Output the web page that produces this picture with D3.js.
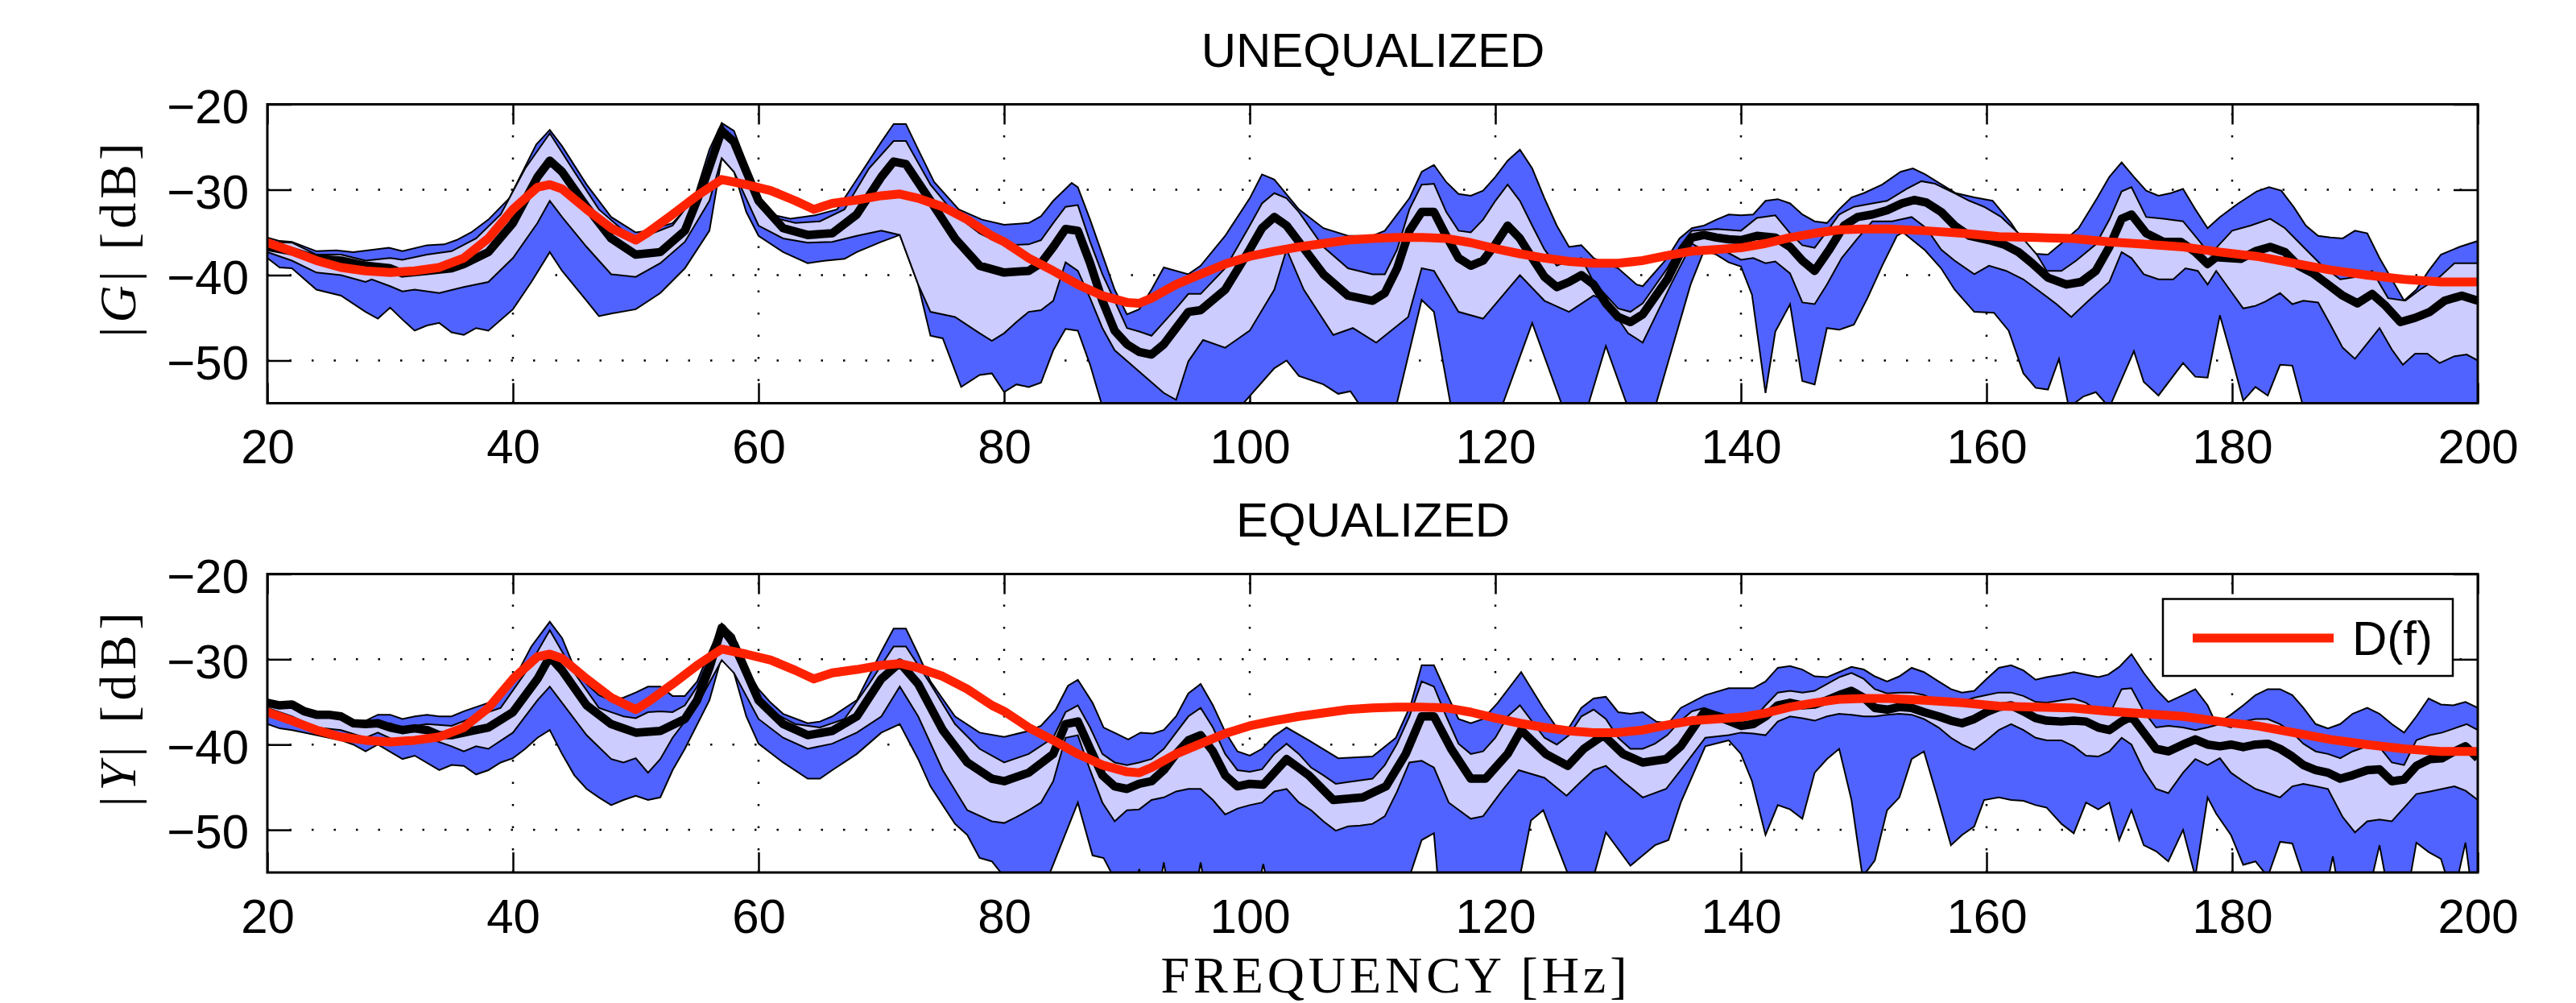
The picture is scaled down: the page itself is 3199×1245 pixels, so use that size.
<!DOCTYPE html>
<html>
<head>
<meta charset="utf-8">
<script src="https://cdn.jsdelivr.net/npm/d3@7"></script>
<style>
  html, body { margin: 0; padding: 0; background: #fff; }
  svg.vis { display: block; }
  .tick text { font-family: "Liberation Sans", Arial, Helvetica, sans-serif; font-size: 60px; fill: #000; }
</style>
</head>
<body>
<svg class="vis" width="3199" height="1245"></svg>
<script>

// axis ticks
const xTicks = [20, 40, 60, 80, 100, 120, 140, 160, 180, 200];
const yTicks = [-20, -30, -40, -50];
const panelTitles = ["UNEQUALIZED", "EQUALIZED"];
const panelSymbols = ["G", "Y"];

// target response D(f), same in both panels  [Hz, dB]
const dTarget = [[20,-36.2],[22,-37.2],[24,-38.3],[26,-39.1],[28,-39.5],[30,-39.7],[32,-39.5],[34,-39.1],[36,-38],[38,-35.7],[40,-32.3],[42,-29.7],[43,-29.4],[44,-29.9],[46,-32.3],[48,-34.5],[50,-35.9],[51,-35],[53,-32.9],[55,-30.7],[57,-28.8],[59,-29.4],[61,-30.1],[63,-31.3],[64.5,-32.3],[66,-31.6],[68,-31.2],[70,-30.7],[71.5,-30.5],[73,-31],[75,-32],[77,-33.5],[79,-35.4],[80,-36.1],[82,-38],[84,-39.5],[86,-41.1],[88,-42.4],[90,-43.2],[91,-43.3],[92,-42.7],[94,-41.1],[96,-39.9],[98,-38.7],[100,-37.8],[102,-37.2],[104,-36.7],[106,-36.3],[108,-35.9],[110,-35.7],[112,-35.6],[114,-35.6],[116,-35.7],[118,-36.2],[120,-36.9],[122,-37.5],[124,-38],[126,-38.4],[128,-38.6],[130,-38.6],[132,-38.3],[134,-37.7],[136,-37.2],[138,-37],[140,-36.8],[142,-36.3],[144,-35.6],[146,-35.1],[148,-34.7],[150,-34.6],[152,-34.6],[155,-34.8],[158,-35.1],[161,-35.5],[164,-35.6],[167,-35.7],[170,-36.1],[173,-36.4],[176,-36.7],[179,-37.3],[182,-37.8],[185,-38.6],[188,-39.4],[191,-40],[194,-40.5],[197,-40.8],[200,-40.8]];

// UNEQUALIZED |G|
const gOuterHi = [[20,-35.6],[21,-36],[22,-36.1],[24,-37.2],[25.6,-37.1],[27,-37.3],[29.9,-36.8],[31,-37.2],[33,-36.5],[34.4,-36.4],[35.4,-35.9],[36.6,-35],[38,-33.5],[39.7,-31],[41.9,-24.7],[43,-23],[44,-24.9],[46,-29.4],[48,-33.2],[50,-35],[51,-34.8],[53,-33.9],[54.7,-31.3],[56,-25.3],[57,-22.2],[58,-23.1],[59,-26.9],[60,-31],[61,-32.9],[62.6,-33.4],[64.6,-33],[66.4,-32.3],[68,-28.8],[70,-24.4],[71,-22.3],[72,-22.3],[73,-25.3],[74.3,-29.1],[76.3,-32.3],[78.2,-33.5],[80,-34.1],[82,-33.9],[83,-33.1],[84,-31.3],[85.5,-29.2],[86,-29.7],[87,-33.5],[88,-37.6],[89,-41.7],[90,-44.6],[91,-44],[92,-41.7],[93,-39.1],[95,-39.9],[96,-38.9],[98,-35.4],[100,-31],[101,-28.2],[102,-28.8],[104,-32.3],[106,-34.5],[108,-35.4],[110,-35.4],[111,-34.8],[113,-31],[114,-27.9],[115,-27.1],[116,-29.1],[117,-30.5],[118,-30.7],[119,-30.1],[120,-28.5],[121,-26.6],[122,-25.3],[123,-27.5],[124,-31],[125,-34.2],[126,-36.7],[127,-36.5],[128,-38],[130,-39.2],[131.5,-41.1],[132,-41.3],[134,-38],[135,-35.7],[136,-34.5],[137,-34.2],[138,-33.5],[139,-32.9],[140,-33],[141,-32.9],[142,-31.3],[143,-31.1],[144,-31.6],[145,-32.9],[146,-33.7],[147,-33.9],[148,-32.3],[149,-30.9],[150,-30.4],[151.5,-29.4],[153,-27.9],[154,-27.5],[155,-28.2],[156,-29.1],[157.5,-30.4],[159,-30.9],[160.5,-31.3],[162,-33.9],[163,-36.1],[164,-37.5],[165,-37.6],[166,-36.4],[167.5,-34.5],[169,-31],[170,-28.5],[171,-26.8],[172,-28.5],[173,-30.1],[174,-30.7],[175,-30.4],[176,-29.9],[177,-32.3],[178,-34.5],[179,-33.2],[180.5,-31.6],[182,-30.2],[183,-29.7],[184,-30.1],[185,-32],[186,-34.2],[187,-35.4],[188,-35.6],[189,-35.7],[190,-34.8],[191,-35.1],[192,-38],[193,-40.5],[194,-43],[195,-41.7],[196,-39.5],[197,-37.6],[198.5,-36.7],[200,-36]];
const gInnerHi = [[20,-36.1],[22,-36.2],[24,-37.6],[26,-37.6],[28,-38.3],[30,-38],[31,-38.2],[33,-37.6],[35,-37.2],[37,-35.7],[39,-32.9],[41,-27.5],[43,-23.4],[45,-27.9],[47,-32.3],[49,-34.8],[50,-35.6],[51,-35.3],[53,-34.2],[55,-30.4],[57,-22.3],[59,-28.2],[61,-33.2],[63,-33.9],[65,-33.7],[67,-32.3],[69,-27.5],[71,-24.3],[72,-24.3],[74,-29.4],[76,-32.9],[78,-35.1],[80,-36.5],[82,-36.4],[83,-35.9],[84,-33.9],[85,-32],[86,-31.8],[87,-36.1],[88,-39.9],[89,-43],[90,-46.2],[91,-46.6],[92,-47.1],[93,-45.5],[94,-43.9],[95,-42.2],[96,-42.2],[98,-39.2],[100,-34.2],[101,-31.6],[102,-30.4],[103,-31],[104,-32.6],[106,-36.7],[108,-39.2],[110,-39.9],[111,-39.9],[112,-37],[113,-32.3],[114,-29.4],[115,-29.3],[116,-32.6],[117,-34.8],[118,-35],[119,-33.5],[120,-31.3],[121,-29.4],[122,-31.3],[123,-34.2],[124,-37],[125,-38.9],[126,-38.3],[127,-38],[128,-40.8],[130,-43.9],[131,-44.3],[132,-43.3],[134,-39.2],[135,-36.7],[136,-34.8],[138,-34.6],[140,-34.8],[141.3,-33.3],[142.8,-33],[144,-35.1],[145,-36.5],[146,-36.8],[147.2,-34.5],[148,-32.9],[149.2,-32],[150.7,-31.6],[151.9,-31.3],[153.5,-29.9],[154.7,-29],[155.8,-29.3],[157.4,-30.4],[158.6,-31.3],[159.8,-32],[161.2,-33.2],[162.6,-35.1],[164.1,-37.6],[164.9,-39.5],[166.1,-39.5],[167.3,-38.3],[168.9,-36.4],[170,-33.5],[171,-30.2],[171.8,-29.7],[173,-33.2],[174.4,-33.4],[176,-33.7],[177.2,-35.8],[178.2,-37.6],[180,-34.8],[181.5,-34.2],[183.1,-33.4],[184.3,-34.5],[185.8,-36.7],[187.4,-39],[188.8,-40.5],[190.2,-40.2],[191.4,-39.5],[192.7,-42.7],[194.1,-43],[195.3,-41.7],[196.9,-40.2],[198.1,-38.6],[200,-38.6]];
const gMedian = [[20,-36.7],[22,-37.2],[24,-38.1],[26,-38.3],[28,-38.9],[30,-39.2],[31,-39.8],[33,-39.5],[35,-39.2],[36,-38.7],[38,-37.3],[40,-33.9],[42,-28.5],[43,-26.6],[44,-27.9],[46,-32],[48,-35.7],[50,-37.6],[52,-37.3],[54,-34.8],[55.5,-29.4],[57,-23.1],[58,-24.4],[60,-31.3],[62,-34.5],[64,-35.3],[66,-35.1],[68,-32.9],[70,-28.5],[71,-26.7],[72,-27],[74,-31.3],[76,-35.7],[78,-38.9],[80,-39.7],[82,-39.5],[83,-38.6],[84,-36.7],[85,-34.6],[86,-34.8],[87,-38.6],[88,-43],[89,-46.5],[90,-48.1],[91,-49],[92,-49.3],[93,-48.1],[94,-46.2],[95,-44.3],[96,-44.1],[98,-41.7],[100,-37],[101,-34.5],[102,-33.2],[103,-34.2],[104,-36.1],[106,-39.9],[108,-42.4],[110,-43],[111,-42.1],[112,-39.2],[113,-34.8],[114,-32.6],[115,-32.6],[116,-35.4],[117,-38],[118,-38.9],[119,-38.3],[120,-36.4],[121,-34.2],[122,-35.7],[123,-38],[124,-40.2],[125,-41.4],[126,-40.8],[127,-40],[128,-41.1],[129,-43.3],[130,-44.9],[131,-45.5],[132,-44.6],[134,-40.5],[135,-37.6],[136,-35.6],[137,-35.3],[138,-35.6],[139,-35.8],[140,-35.9],[141.3,-35.4],[142.8,-35.6],[144,-36.7],[145,-38.3],[146,-39.5],[147.2,-37],[148.4,-34.2],[149.5,-33.2],[150.7,-32.9],[151.9,-32.4],[153.1,-31.6],[154.1,-31.2],[155.1,-31.5],[156.3,-32.6],[157.4,-34.2],[158.6,-35.4],[160.2,-35.9],[161.4,-36.4],[162.6,-37.3],[163.7,-38.6],[165,-40.3],[166.5,-41.1],[167.7,-40.8],[168.9,-39.5],[170,-36.7],[171,-33.4],[171.8,-32.9],[173,-35.1],[174.4,-36.1],[175.8,-36.1],[177,-37.3],[178,-38.7],[178.7,-37.9],[180.7,-38.1],[181.9,-37.2],[183.1,-36.7],[184.3,-37.3],[185.4,-38.9],[186.6,-39.8],[187.8,-41.1],[189,-42.4],[190.2,-43.3],[191.4,-42.2],[192.5,-43.6],[193.7,-45.5],[194.9,-45],[196.1,-44.3],[197.3,-43],[198.7,-42.4],[200,-43]];
const gInnerLo = [[20,-37.3],[22,-38.3],[24,-39.7],[26,-40],[28,-40.8],[28.5,-40.5],[30,-41.3],[31,-41.9],[32,-41.7],[34,-42.1],[36,-41.4],[38,-40.8],[40,-38],[42,-33.9],[43,-31.3],[44,-33.2],[46,-36.7],[48,-39.9],[50,-40.2],[52,-38.6],[54,-36.1],[56,-31.3],[57,-26.3],[58,-27.9],[60,-34.2],[62,-35.7],[64,-36.2],[66,-36.1],[68,-35.4],[70,-34.8],[71.5,-35.3],[73,-41.1],[74,-44.3],[76,-44.9],[78,-46.8],[79,-47.7],[80,-46.8],[81,-45.5],[82,-44.3],[83,-44.1],[84,-43],[85,-38.5],[86,-39.5],[87,-42.7],[88,-46.2],[89,-48.8],[91,-51.3],[93,-53.8],[94,-54.6],[95,-50.1],[96.2,-47.6],[98,-48.5],[100,-46.5],[102,-41.7],[103,-37],[104.4,-41.7],[106.8,-47],[108.4,-46.2],[110.3,-47.9],[112.9,-44.9],[114,-39.2],[115,-39.5],[117,-44.3],[119,-45.1],[122,-40],[124,-43],[126,-44.3],[128,-42.4],[129,-43],[130.8,-46.8],[132,-47.9],[134.3,-41.1],[136,-36.3],[137,-37.1],[138.6,-37.1],[140,-38.2],[141,-38],[142,-38.6],[142.8,-38.4],[144,-39.8],[145,-43.2],[146,-43.4],[147,-41.1],[148.2,-38],[149.5,-35.7],[150.7,-33.7],[152.3,-33.7],[153.9,-33.2],[155.1,-34.5],[156.3,-37],[157.4,-38.3],[159,-39.9],[160.2,-38.9],[161.6,-39.5],[163,-40.5],[164.5,-42.1],[165.7,-43.4],[166.9,-44.9],[168.3,-43],[170,-40.8],[171,-37.3],[171.8,-38],[172.8,-39.9],[174,-40.5],[175.2,-40.5],[176.2,-39.2],[177.2,-39.5],[178,-41.1],[178.7,-39.5],[180,-42.1],[180.9,-43.9],[181.9,-43.6],[182.7,-43.1],[183.9,-42.1],[184.9,-43.4],[185.8,-43],[187,-43.2],[188,-45.8],[189,-48.5],[190,-49.8],[191,-48],[192,-46.2],[193,-48.7],[193.9,-50.5],[194.9,-49.2],[195.9,-49.2],[196.9,-50.3],[198.1,-49.5],[199.1,-49.3],[200,-50]];
const gOuterLo = [[20,-38],[21,-39.1],[22,-39.2],[24,-41.7],[26,-42.4],[28,-44.3],[29,-45.1],[30,-43.8],[31,-45.2],[32,-46.5],[33,-45.9],[34,-45.6],[35,-46.7],[36,-47],[37,-46.2],[38,-46.5],[40,-44],[41.5,-40.8],[43,-37.3],[44,-39.5],[46,-43],[47,-44.8],[48,-44.5],[50,-44],[52,-42.1],[54,-39.2],[56,-34.8],[57,-26.3],[58,-27.9],[59,-32.6],[60,-35.4],[62,-37.3],[64,-38.6],[65.5,-38.3],[67,-38.1],[68,-37.3],[70,-36.1],[71.5,-35.3],[73,-41.1],[74,-47.1],[75,-47.4],[76.5,-53.1],[78,-51.7],[79,-51.5],[80,-53.7],[81,-52.8],[82,-53.1],[83,-52.6],[84,-48.8],[85,-46.3],[86,-46.5],[87,-50.5],[88,-55.4],[89,-58],[98,-58],[99.3,-55.3],[102,-50.9],[103,-50],[104,-51.8],[106,-52.8],[107.2,-53.9],[108.2,-53.6],[109,-55.3],[110,-58],[111.9,-55.5],[114,-42.9],[115,-44.3],[116.4,-55.5],[117,-58],[120,-58],[120.5,-55.5],[123,-45.6],[125.5,-55.5],[126,-58],[127.5,-55.5],[129,-48.3],[130.8,-55.5],[131.5,-58],[132.5,-58],[133,-55.5],[135.9,-41.1],[137,-37.1],[138,-37.6],[139,-38.5],[140,-39],[140.9,-42.3],[142,-53.8],[142.8,-46.6],[144,-43.4],[145,-52.4],[146,-52.8],[147,-46.2],[148,-46.4],[149.2,-45.8],[150.3,-42.7],[151.5,-38.9],[152.7,-35.4],[153.2,-35],[155,-37.1],[156.3,-39.2],[157.4,-41.7],[159,-44.3],[160.6,-44.4],[161.8,-46.5],[163,-51.5],[164,-53.2],[165,-53.4],[165.9,-49.8],[166.7,-55.5],[167.9,-54.2],[168.9,-53.7],[170,-55.5],[172,-48.9],[172.8,-52.5],[174,-54.1],[176,-50.3],[177,-51.9],[178,-52],[179,-44.7],[179.9,-49.3],[180.9,-54.7],[181.9,-53.1],[182.9,-54.1],[183.9,-50.5],[184.9,-50.6],[185.8,-55.5],[186.5,-58],[200,-58]];

// EQUALIZED |Y|
const yOuterHi = [[20,-34.8],[21,-35.1],[22,-35.1],[23,-35.7],[24,-36.4],[25,-36.3],[26,-36.4],[27,-37.2],[28,-37.2],[29,-36.5],[30,-36.5],[31,-37],[32,-36.7],[33,-36.5],[34,-36.7],[35,-36.7],[36,-36.1],[37,-35.6],[38,-35.1],[40,-32.6],[41.5,-28.5],[43,-25.6],[44,-27.5],[45,-31],[46,-32.9],[47,-34.2],[48,-34.8],[49,-34.5],[50,-33.9],[51,-33.2],[52,-33.2],[53,-34.3],[54,-34.3],[55,-32.6],[56,-29.1],[57,-25.8],[58,-27.2],[59,-31],[60,-33.5],[61,-35.1],[62,-36.4],[64,-37.5],[65,-37.3],[66,-36.7],[68,-34.8],[70,-29.1],[71,-26.4],[72,-26.4],[73,-29.4],[74,-32.6],[76,-36.7],[78,-38.6],[80,-39.1],[82,-38.4],[83,-37.8],[84.2,-35.9],[85.2,-33.1],[86,-32.4],[87.2,-35.1],[88.1,-38],[89.1,-38.7],[90.1,-39.4],[91.1,-38.6],[92.1,-38.7],[93,-38.3],[94,-36.7],[95,-34],[96,-32.9],[97,-35.4],[98,-38.5],[99,-40.8],[100,-41.3],[101,-40.5],[102,-39],[103,-38],[104.8,-39.5],[107.2,-41.6],[110,-41.4],[111.9,-39.2],[113.1,-35.4],[114,-30.7],[115,-30.7],[116,-33.9],[117,-37],[118,-37.5],[119,-37],[120.2,-35.1],[122.1,-31.5],[123.9,-35.7],[125,-38],[126,-38],[127,-35.7],[128,-34.6],[129,-34.4],[130,-36.2],[131,-36.4],[132,-36.2],[133.1,-37.3],[134.1,-37.5],[135.1,-35.7],[137.1,-34.2],[139,-33.4],[140,-33.4],[141,-33.4],[142,-32.6],[143,-31],[144,-30.8],[145,-31.2],[146,-32],[147,-32.1],[148,-31.5],[149,-30.9],[150,-31.2],[150.9,-32],[151.9,-32.6],[152.9,-32],[153.9,-31],[154.9,-31.5],[156.1,-32.6],[157.1,-33.5],[158,-33.9],[159,-33.7],[160,-32.3],[161,-31],[162,-30.7],[163,-31.3],[164,-32.4],[164.9,-32.1],[166.1,-31.8],[167.1,-31.5],[168.1,-31.8],[169.1,-32.1],[169.9,-31.8],[170.8,-30.9],[171.8,-29.4],[172.8,-31.6],[173.8,-33.5],[174.8,-35],[176,-34.2],[177,-33.5],[178,-35.4],[178.7,-37.6],[179.9,-36.5],[180.9,-35.4],[181.9,-34.2],[182.9,-33.5],[183.9,-33.5],[184.9,-34.2],[185.8,-35.7],[186.8,-37.6],[187.8,-38.1],[188.8,-37.6],[189.8,-36.4],[191,-35.7],[192,-36.4],[193,-37.6],[194,-38.6],[195,-36.7],[196,-34.6],[197,-35.3],[198,-35.4],[199,-35],[200,-35.7]];
const yInnerHi = [[20,-35.1],[22,-35.6],[24,-36.7],[26,-36.9],[28,-37.6],[30,-37.5],[31,-38],[33,-37.6],[35,-37.8],[37,-36.7],[39,-35.7],[41,-31.6],[43,-26.6],[45,-31.6],[47,-35.7],[49,-36.7],[50,-36.9],[51,-36.2],[52,-36.1],[53,-36.2],[54,-35.4],[55,-33.2],[57,-26.3],[59,-32.3],[61,-36.1],[63,-37.6],[65,-38],[67,-37],[69,-32.9],[71,-28.5],[72,-28.5],[74,-32.9],[76,-37.6],[78,-40.5],[80,-42.1],[82,-41.1],[84,-39.2],[85,-36.2],[86,-35.4],[87,-38],[88,-41.1],[89,-42.1],[90,-42.4],[91,-42.1],[92,-41.7],[93,-40.5],[94,-38.6],[95,-36.7],[96,-35.7],[97,-38],[98,-41.1],[99,-43],[100,-43.2],[101,-42.9],[102,-41.1],[103,-39.9],[104,-41.1],[105,-42.7],[106,-43.6],[107,-44.6],[108,-44.4],[110,-44],[111,-42.4],[112,-39.9],[113,-36.7],[114,-32.6],[115,-33.2],[116,-36.7],[117,-39.9],[118,-41.1],[119,-40.8],[120,-39.2],[121,-36.7],[122,-35.4],[123,-37.3],[124,-39.2],[125,-40],[126,-38.9],[127,-36.7],[128,-35.9],[129,-37],[130,-39.2],[131,-40.5],[132,-40.5],[133,-39.9],[134,-38.9],[135,-37.3],[136,-36.1],[137,-35.7],[138,-36.2],[140,-37],[141,-37],[142,-35.4],[143,-33.9],[144,-33.7],[145,-33.9],[146,-33.7],[147,-32.9],[148,-32.1],[149,-31.6],[150,-32.3],[150.9,-33.5],[151.9,-34],[152.9,-33.9],[153.9,-33.9],[154.9,-34.2],[156.1,-35],[157.1,-35.4],[158,-35],[159,-34.5],[160,-34.2],[161,-33.9],[162,-33.9],[163,-34.3],[164,-35],[164.9,-35.1],[166.1,-34.8],[167.1,-34.6],[168.1,-35.1],[169.1,-36.1],[170,-36.5],[171,-33.5],[171.8,-33.4],[172.8,-36.1],[173.8,-38],[174.8,-37.8],[176,-38],[177,-38.3],[178,-38],[179,-37.6],[179.9,-38],[180.9,-37.3],[181.9,-37],[182.9,-37],[183.9,-37.6],[184.9,-38.6],[185.8,-39.9],[186.8,-40.8],[187.8,-41.1],[188.8,-41.6],[189.8,-40.8],[191,-40.2],[192,-40.3],[193,-42.1],[194,-42.4],[195,-39.5],[196.1,-38.9],[197.1,-38.6],[198.1,-38.1],[199.1,-37.6],[200,-38.3]];
const yMedian = [[20,-35.1],[21,-35.4],[22,-35.3],[23,-36.1],[24,-36.5],[25,-36.5],[26,-36.7],[27,-37.5],[28,-37.6],[29,-37.5],[30,-38],[31,-38.3],[32,-38.1],[33,-38.3],[34,-38.9],[35,-38.9],[36,-38.6],[37,-38.3],[38,-38],[40,-36.2],[42,-32.3],[43,-29.7],[44,-31.3],[46,-35.4],[48,-37.6],[50,-38.6],[52,-38.4],[54,-37],[55,-34.8],[56,-31],[57,-26.3],[58,-28.2],[60,-34.8],[62,-37.6],[64,-38.9],[66,-38.4],[68,-36.7],[70,-32.3],[71.5,-30.4],[73,-32.9],[75,-38.3],[77,-42.1],[79,-44],[80,-44.3],[82,-43.3],[84,-41.1],[85,-37.6],[86,-37.3],[87,-40.5],[88,-43.6],[89,-44.9],[90,-45.2],[91,-44.6],[92,-44.3],[93,-43],[94,-41.1],[95,-39.5],[96,-38.9],[97,-40.8],[98,-43.6],[99,-44.9],[100,-44.6],[101.1,-44.7],[103,-41.7],[104.8,-43.6],[106.8,-46.5],[109.2,-46.2],[111.1,-44.9],[112.7,-41.1],[114,-36.7],[115,-36.7],[116.4,-40.5],[118,-44],[119.2,-44],[121,-41.1],[122.1,-38.3],[124.1,-41.1],[125.9,-42.5],[127.2,-40.5],[128.8,-38.9],[130.4,-41.1],[132,-42.1],[133.9,-41.7],[135.1,-40.2],[137,-36.2],[138.6,-37],[140,-37.8],[141,-37.6],[142,-36.7],[143,-35.4],[144,-35.1],[145,-35.4],[146,-35.3],[147,-34.8],[148,-34.2],[149,-33.7],[150,-34.5],[150.9,-35.7],[151.9,-35.9],[152.9,-35.6],[153.9,-35.7],[154.9,-36.2],[156.1,-36.7],[157.1,-37.2],[158,-37.5],[159,-37],[160,-36.2],[161,-35.6],[162,-35.4],[163,-36.1],[164,-36.9],[164.9,-37.2],[166.1,-37.3],[167.1,-37.2],[168.1,-37.3],[169.1,-38],[170,-38.3],[171,-37.3],[171.8,-36.7],[172.8,-38.6],[173.8,-40.5],[174.8,-40.8],[176,-40],[177,-39.4],[178,-40],[179,-40.2],[179.9,-40],[180.9,-40.3],[181.9,-40],[182.9,-39.9],[183.9,-40.5],[184.9,-41.4],[185.8,-42.4],[186.8,-43],[187.8,-43.3],[188.8,-44],[189.8,-43.6],[191,-43],[192,-42.9],[193,-44.3],[194,-44.1],[195,-42.5],[196.1,-41.7],[197.1,-41.6],[198.1,-40.8],[199,-40.2],[200,-41.6]];
const yInnerLo = [[20,-35.7],[22,-36.7],[24,-38],[26,-38.3],[28,-39.2],[29,-38.6],[31,-39.9],[33,-39.2],[35,-40.2],[36,-40.8],[37,-40.2],[38,-40.5],[40,-38.6],[42,-34.8],[43,-33.2],[44,-35.1],[46,-38.9],[48,-41.7],[49,-42.1],[50,-41.6],[51,-43.3],[52,-41.7],[53,-39.2],[55,-35.4],[57,-30.1],[58,-31.6],[60,-37],[62,-39.2],[64,-40.5],[66,-39.9],[68,-38.6],[70,-36.7],[71.5,-33.2],[73,-36.7],[75,-43],[77,-47.7],[79,-49],[80,-49.2],[81,-48.5],[82,-47.7],[83,-46.8],[84,-44.3],[85,-39.2],[86,-38.9],[87,-43],[88,-46.8],[89,-49],[90,-47.7],[91,-47.6],[92,-46.5],[93,-46.2],[94,-45.5],[95,-45.2],[96,-45.2],[97,-46.5],[98,-48.2],[99,-47.5],[100,-47.1],[101,-46.8],[102,-45.5],[103,-45.2],[104,-46.8],[105,-47.7],[106,-49],[107,-50.1],[108,-49.6],[109,-49.5],[110,-49.3],[111,-48.4],[112,-45.5],[113,-42.1],[114,-41.9],[115,-42.7],[116.2,-46.8],[118,-48.7],[119,-48.4],[120.5,-45.5],[121.9,-43],[124,-43.9],[125.8,-46],[127,-44.3],[128,-43],[129,-42.5],[130.4,-44.3],[132,-46.2],[133.9,-45.2],[135.1,-43],[137.1,-39.2],[139,-38.9],[140,-38.6],[141,-38.7],[142,-38.9],[143,-37.3],[144,-36.7],[145,-36.9],[146,-37.2],[147,-36.7],[148,-36.4],[149,-36.5],[150,-36.7],[150.9,-36.7],[151.9,-36.5],[152.9,-36.4],[153.9,-36.5],[154.9,-37],[156.1,-38],[157.1,-39.2],[158,-40],[159,-40.6],[160,-39.5],[161,-38.3],[162,-37.6],[163,-38.3],[164,-39.2],[164.9,-39.5],[166.1,-39.5],[167.1,-40.2],[168.1,-41.3],[169.1,-41.4],[170,-40.8],[171,-39.2],[171.8,-40],[172.8,-43],[173.8,-45.2],[174.8,-45.7],[176,-43.3],[177,-41.7],[178,-42.4],[179,-41.6],[179.9,-43.3],[180.9,-44.3],[181.9,-45.2],[182.9,-45.7],[183.9,-46.2],[184.9,-44.9],[185.8,-44.6],[186.8,-44.9],[187.8,-45.2],[189,-48.5],[190,-50.3],[191,-49],[192,-48.8],[193,-49],[194,-47.4],[195,-45.8],[196.1,-45.5],[197.1,-45.2],[198.1,-44.9],[199,-45.4],[200,-46.5]];
const yOuterLo = [[20,-37.6],[21,-38.1],[22,-38.3],[24,-38.9],[26,-39.5],[27,-40],[28,-40.8],[29,-40],[31,-41.7],[32,-41.3],[34,-43],[35,-42.4],[36,-42.5],[37,-43.5],[38,-43],[39,-42.1],[40,-41.6],[41,-40.5],[42,-39.2],[43,-38.3],[44,-41.1],[45,-43.6],[46,-45.2],[47,-46.2],[48,-47.1],[49,-46.5],[50,-46],[51,-46.5],[52,-46.2],[53,-43],[54,-40.5],[56,-34.8],[57,-29.7],[58,-31.6],[59,-36.7],[60,-39.9],[62,-42.1],[64,-44],[65,-44],[66,-43],[68,-41.1],[70,-38.6],[71.5,-37.6],[73,-41.7],[74,-44.9],[75,-47.1],[76,-49.3],[77,-50.6],[78,-53.3],[79,-53.7],[80,-55.5],[80.5,-58],[83,-58],[83.6,-55.5],[86,-46.8],[87.2,-53],[88.1,-53.3],[88.9,-55.5],[89.5,-58],[90.5,-58],[91,-54.6],[91.5,-58],[92.5,-58],[93,-53.8],[93.5,-58],[95.5,-58],[96,-53.8],[96.5,-58],[100.5,-58],[101.1,-54],[101.7,-58],[112.5,-58],[113,-55.5],[114,-51.2],[115,-50.4],[115.3,-55.5],[116,-58],[121.5,-58],[122,-55.5],[122.9,-48.9],[123.9,-47.7],[126,-55.5],[126.5,-58],[127.5,-58],[128,-55.5],[129,-50.3],[131,-54.2],[133,-51.8],[134.1,-51.2],[135.1,-46.8],[137.1,-40.2],[139,-39.5],[140,-41.1],[140.9,-44.3],[142,-50.6],[143,-47.1],[144,-47.6],[145,-48.7],[146,-43.3],[147,-41.7],[148,-40.5],[149,-46.5],[149.9,-55.5],[150.9,-53.6],[151.9,-47.7],[152.9,-46.2],[153.9,-41.7],[154.9,-40.8],[155.9,-45.7],[157.1,-51.8],[158,-50.6],[159,-49.6],[159.8,-46.5],[161,-46.2],[162,-46.5],[163,-46.6],[164,-47.1],[164.9,-47.4],[166.1,-49.3],[167.1,-50.4],[168.1,-46.8],[169.1,-47.6],[170,-46.8],[170.8,-51.2],[171.8,-47.7],[172.8,-51.8],[173.8,-52.5],[174.8,-53.7],[176,-50],[177,-55.5],[178,-46.2],[178.7,-48.1],[179.9,-50.6],[180.9,-54.1],[181.9,-53.7],[182.9,-55.5],[183.9,-51.4],[184.9,-51.6],[185.8,-55.5],[187.5,-58],[188.2,-53.1],[188.8,-58],[191,-58],[192,-51.8],[192.8,-58],[194.2,-58],[195,-51.5],[196,-52.6],[197,-53.4],[198,-58],[199,-51.5],[199.6,-58],[200,-58]];

const vis = {

    refs: {
        svg: "svg.vis"
    },

    sels: {
        svg: null
    },

    dims: {
        w: 3199,
        h: 1245,
        left: 332,
        right: 3077,
        // top / bottom edge of each plot box
        panels: [[129.5, 500.5], [712.5, 1083]]
    },

    colors: {
        outer: "#5063ff",
        inner: "#ccccff",
        median: "#000",
        target: "#ff2200"
    },

    f: {

        generates_refs: function() {
            vis.sels.svg = d3.select(vis.refs.svg);
        },

        band_path: function(x, y, hi, lo) {
            const line = d3.line()
                .x(d => x(d[0]))
                .y(d => y(d[1]));
            return line(hi.concat(lo.slice().reverse())) + "Z";
        }

    },

    draw: {

        panel: function(i, data) {

            const svg = vis.sels.svg;
            const [top, bottom] = vis.dims.panels[i];
            const left = vis.dims.left, right = vis.dims.right;

            const x = d3.scaleLinear().domain([20, 200]).range([left, right]);
            const y = d3.scaleLinear().domain([-55, -20]).range([bottom, top]);

            const g = svg.append("g").attr("class", "panel-" + i);

            g.append("clipPath").attr("id", "clip-" + i)
                .append("rect")
                .attr("x", left).attr("y", top)
                .attr("width", right - left).attr("height", bottom - top);

            // dotted grid
            const grid = g.append("g")
                .attr("stroke", "#000")
                .attr("stroke-width", 2.5)
                .attr("stroke-dasharray", "2.5 25");

            grid.selectAll("line.gx")
                .data(xTicks.filter(d => d > 20 && d < 200))
                .join("line")
                .attr("class", "gx")
                .attr("x1", d => x(d)).attr("x2", d => x(d))
                .attr("y1", bottom).attr("y2", top);

            grid.selectAll("line.gy")
                .data(yTicks.filter(d => d > -55 && d < -20))
                .join("line")
                .attr("class", "gy")
                .attr("x1", left).attr("x2", right)
                .attr("y1", d => y(d)).attr("y2", d => y(d));

            // axes (ticks point inward, like the original)
            const axB = g.append("g")
                .attr("transform", `translate(0,${bottom})`)
                .call(d3.axisBottom(x).tickValues(xTicks).tickSize(-25).tickPadding(32));
            const axT = g.append("g")
                .attr("transform", `translate(0,${top})`)
                .call(d3.axisTop(x).tickValues(xTicks).tickSize(-25).tickFormat(""));
            const axL = g.append("g")
                .attr("transform", `translate(${left},0)`)
                .call(d3.axisLeft(y).tickValues(yTicks).tickSize(-30).tickPadding(23));
            const axR = g.append("g")
                .attr("transform", `translate(${right},0)`)
                .call(d3.axisRight(y).tickValues(yTicks).tickSize(-30).tickFormat(""));

            [axB, axT, axL, axR].forEach(a => {
                a.select(".domain").remove();
                a.selectAll(".tick line").attr("stroke", "#000").attr("stroke-width", 2.5);
            });
            axL.selectAll(".tick text").attr("dy", "0.38em");

            // data
            const plot = g.append("g").attr("clip-path", `url(#clip-${i})`);

            plot.append("path")
                .attr("d", vis.f.band_path(x, y, data.outerHi, data.outerLo))
                .attr("fill", vis.colors.outer)
                .attr("stroke", "#000")
                .attr("stroke-width", 2);

            plot.append("path")
                .attr("d", vis.f.band_path(x, y, data.innerHi, data.innerLo))
                .attr("fill", vis.colors.inner)
                .attr("stroke", "#000")
                .attr("stroke-width", 2);

            const line = d3.line().x(d => x(d[0])).y(d => y(d[1]));

            plot.append("path")
                .attr("d", line(data.median))
                .attr("fill", "none")
                .attr("stroke", vis.colors.median)
                .attr("stroke-width", 10.5)
                .attr("stroke-linejoin", "round");

            plot.append("path")
                .attr("d", line(dTarget))
                .attr("fill", "none")
                .attr("stroke", vis.colors.target)
                .attr("stroke-width", 11)
                .attr("stroke-linejoin", "round")
                .attr("stroke-linecap", "round");

            // box
            g.append("rect")
                .attr("x", left).attr("y", top)
                .attr("width", right - left).attr("height", bottom - top)
                .attr("fill", "none")
                .attr("stroke", "#000")
                .attr("stroke-width", 3);

            // title
            g.append("text")
                .attr("x", 1705).attr("y", top - 47)
                .attr("text-anchor", "middle")
                .style("font-family", "'Liberation Sans', Arial, Helvetica, sans-serif")
                .style("font-size", "60px")
                .text(panelTitles[i]);

            // y label |G| [dB]
            const cy = (top + bottom) / 2 - 17;
            const yl = g.append("text")
                .attr("transform", `translate(168,${cy}) rotate(-90)`)
                .attr("text-anchor", "middle")
                .attr("textLength", 241)
                .attr("lengthAdjust", "spacing")
                .style("font-family", "'Liberation Serif', 'Times New Roman', serif")
                .style("font-size", "64px");
            yl.append("tspan").text("|");
            yl.append("tspan").style("font-style", "italic").text(panelSymbols[i]);
            yl.append("tspan").text("|  [dB]");

            return { x: x, y: y };
        },

        legend: function() {

            const g = vis.sels.svg.append("g").attr("class", "legend");

            g.append("rect")
                .attr("x", 2686).attr("y", 743.5)
                .attr("width", 360).attr("height", 95.5)
                .attr("fill", "#fff")
                .attr("stroke", "#000")
                .attr("stroke-width", 2.5);

            g.append("line")
                .attr("x1", 2723).attr("x2", 2898)
                .attr("y1", 792).attr("y2", 792)
                .attr("stroke", vis.colors.target)
                .attr("stroke-width", 11);

            g.append("text")
                .attr("x", 2921).attr("y", 813)
                .style("font-family", "'Liberation Sans', Arial, Helvetica, sans-serif")
                .style("font-size", "60px")
                .text("D(f)");
        },

        xlabel: function() {
            vis.sels.svg.append("text")
                .attr("x", 1731).attr("y", 1232)
                .attr("text-anchor", "middle")
                .attr("textLength", 579)
                .attr("lengthAdjust", "spacing")
                .style("font-family", "'Liberation Serif', 'Times New Roman', serif")
                .style("font-size", "64px")
                .text("FREQUENCY [Hz]");
        }

    },

    control: {

        init: function() {

            vis.f.generates_refs();

            vis.sels.svg.append("rect")
                .attr("width", vis.dims.w).attr("height", vis.dims.h)
                .attr("fill", "#fff");

            vis.draw.panel(0, {
                outerHi: gOuterHi, innerHi: gInnerHi, median: gMedian,
                innerLo: gInnerLo, outerLo: gOuterLo
            });

            vis.draw.panel(1, {
                outerHi: yOuterHi, innerHi: yInnerHi, median: yMedian,
                innerLo: yInnerLo, outerLo: yOuterLo
            });

            vis.draw.legend();
            vis.draw.xlabel();
        }

    }

};

vis.control.init();
</script>
</body>
</html>
